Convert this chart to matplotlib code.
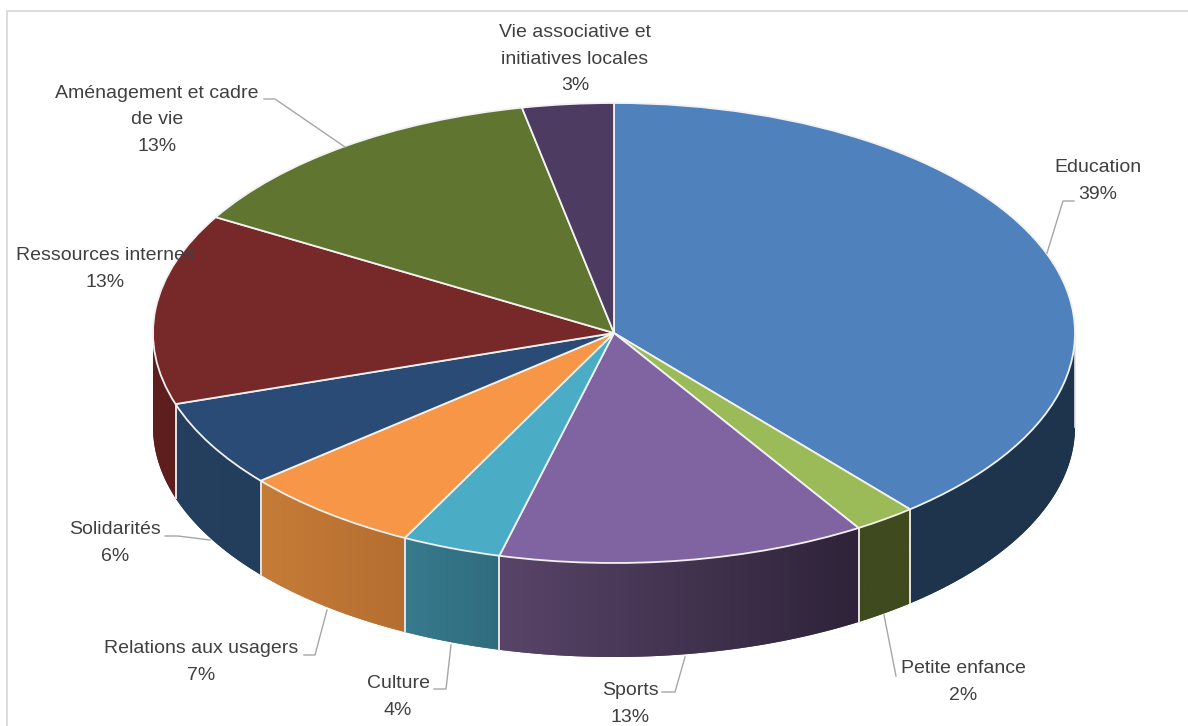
import numpy as np
import matplotlib
matplotlib.use("Agg")
import matplotlib.pyplot as plt
from matplotlib.colors import to_rgb
from matplotlib.transforms import Affine2D

# Data (clockwise from 12 o'clock)
categories = ["Education", "Petite enfance", "Sports", "Culture", "Relations aux usagers",
              "Solidarités", "Ressources internes", "Aménagement et cadre\nde vie",
              "Vie associative et\ninitiatives locales"]
values = [38.9, 2.2, 12.9, 3.5, 6.4, 6.1, 13.4, 13.4, 3.2]
percent_labels = ["39%", "2%", "13%", "4%", "7%", "6%", "13%", "13%", "3%"]

# Styles
top_colors = ["#4F81BD", "#9BBB59", "#8064A2", "#4BACC6", "#F79646",
              "#2A4B75", "#772828", "#5F7530", "#4D3B62"]
side_left = ["#1E344C", "#3F4A1E", "#584468", "#387A8E", "#C67C38",
             "#25405F", "#5F1E1E", "#4A5B25", "#3C2E4C"]
side_right = ["#1E344C", "#3F4A1E", "#2E2339", "#306C7E", "#B56E30",
              "#233E5C", "#5F1E1E", "#4A5B25", "#3C2E4C"]
label_xy = [(1098, 181), (963, 682), (630, 704), (398, 697), (201, 662),
            (115, 543), (105, 269), (157, 120), (575, 59)]
leaders = [[(1047, 253), (1063, 201), (1074, 201)],
           [(884, 615), (896, 676)],
           [(685, 657), (675, 692), (662, 692)],
           [(451, 645), (446, 689), (434, 689)],
           [(327, 610), (315, 655), (304, 655)],
           [(210, 540), (178, 536), (165, 536)],
           [],
           [(345, 147), (275, 99), (264, 99)],
           []]

W, H = 1188, 726
cx, cy, rx, ry, depth = 614, H - 333, 461, 230, 94

fig = plt.figure(figsize=(W / 100, H / 100), dpi=100, facecolor="white")
ax = fig.add_axes([0, 0, 1, 1])

# Side walls: only the front half of the cylinder is visible
fractions = np.cumsum([0] + values) / sum(values)
angles = 90 - 360 * fractions  # math degrees, clockwise
for i in range(len(values)):
    lo, hi = angles[i + 1], angles[i]
    if hi <= -180:
        lo, hi = lo + 360, hi + 360
    lo_v, hi_v = max(lo, -180), min(hi, 0)
    if hi_v <= lo_v:
        continue
    t = np.radians(np.linspace(lo_v, hi_v, 120))
    xs = cx + rx * np.cos(t)
    top = cy + ry * np.sin(t)
    wall = ax.fill_between(xs, top - depth, top, facecolor=side_left[i],
                           edgecolor="none", zorder=2)
    # horizontal colour gradient, clipped to the wall outline
    grad = np.linspace(to_rgb(side_left[i]), to_rgb(side_right[i]), 128)[None, :, :]
    img = ax.imshow(grad, extent=(xs.min(), xs.max(), (top - depth).min(), top.max()),
                    aspect="auto", interpolation="bilinear", zorder=2.5)
    img.set_clip_path(wall.get_paths()[0], transform=ax.transData)
    for e in (lo_v, hi_v):
        if e > -180:
            ex = cx + rx * np.cos(np.radians(e))
            ey = cy + ry * np.sin(np.radians(e))
            ax.plot([ex, ex], [ey, ey - depth], color="#E4E4E4", lw=1.2, zorder=3)

# Top face: pie stretched into an ellipse
wedges, _ = ax.pie(values, colors=top_colors, startangle=90, counterclock=False,
                   wedgeprops=dict(edgecolor="#F2F2F2", linewidth=1.3))
squash = Affine2D().scale(rx, ry).translate(cx, cy) + ax.transData
for w in wedges:
    w.set_transform(squash)
    w.set_zorder(4)

ax.set_aspect("auto")
ax.set_xlim(0, W)
ax.set_ylim(0, H)
ax.axis("off")

# Frame of the chart area
ax.plot([7, 7, W], [0, H - 11, H - 11], color="#D9D9D9", lw=1.3, zorder=1,
        solid_joinstyle="miter")

# Leader lines
for pts in leaders:
    if pts:
        px, py = zip(*pts)
        ax.plot(px, [H - v for v in py], color="#A6A6A6", lw=1.0, zorder=5)

# Labels
for name, pct, (lx, ly) in zip(categories, percent_labels, label_xy):
    ax.text(lx, H - ly, f"{name}\n{pct}", ha="center", va="center", ma="center",
            fontsize=14, color="#404040", family="Liberation Sans",
            linespacing=1.75, zorder=6)

fig.savefig("out.png", dpi=100, facecolor="white")
